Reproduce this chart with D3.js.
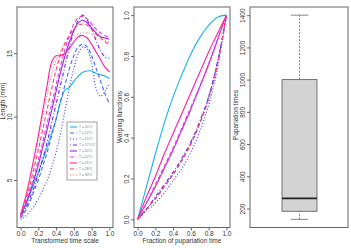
<!DOCTYPE html>
<html>
<head>
<meta charset="utf-8">
<script src="https://cdn.jsdelivr.net/npm/d3@7"></script>
<style>
  body { margin: 0; background: #fff; }
  svg { font-family: "Liberation Sans", Arial, sans-serif; }
</style>
</head>
<body>
<div id="chart"></div>
<script>
// DATA
const tGrid = [0,0.05,0.1,0.15,0.2,0.25,0.3,0.35,0.4,0.45,0.5,0.55,0.6,0.65,0.7,0.75,0.8,0.85,0.9,0.95,1]
const tempLabels = ["T = 10°C","T = 12°C","T = 15°C","T = 17.5°C","T = 20°C","T = 22°C","T = 25°C","T = 28°C","T = 30°C"]
const lenT1 = [2.2,2.9,3.8,4.7,5.6,6.6,7.6,8.7,9.8,11.2,12.1,12.3,12.8,13.2,13.5,13.6,13.6,13.4,13.3,13.2,13.0]
const lenT2 = [2.0,2.5,3.2,4.1,5.0,6.1,7.2,8.5,9.8,11.2,12.5,13.8,14.8,15.5,15.7,15.5,14.8,13.8,12.8,11.8,11.0]
const lenT3 = [1.9,2.1,2.5,2.9,3.5,4.2,5.0,6.0,7.2,8.7,10.5,12.3,13.8,15.0,15.5,15.3,14.2,12.2,11.6,12.0,12.6]
const lenT4 = [2.1,2.7,3.5,4.4,5.5,6.7,8.0,9.5,11.0,12.5,14.0,15.5,16.8,17.6,18.0,17.6,16.9,16.0,15.2,14.7,14.6]
const lenT5 = [2.2,3.0,3.9,5.0,6.2,7.6,9.0,10.5,12.0,13.5,14.8,15.9,16.8,17.4,17.6,17.4,17.0,16.6,16.3,16.2,16.1]
const lenT6 = [2.2,3.1,4.1,5.3,6.6,8.0,9.5,11.0,12.5,14.0,15.3,16.4,17.3,17.8,17.9,17.7,17.3,16.9,16.6,16.4,16.2]
const lenT7 = [2.3,3.5,5.0,6.7,8.5,10.5,12.5,14.3,14.8,14.8,15.0,15.4,15.9,16.3,16.4,16.2,15.7,15.1,14.5,13.9,13.5]
const lenT8 = [2.2,3.3,4.5,5.9,7.4,9.0,10.6,12.2,13.7,14.9,15.8,16.4,16.9,17.2,17.3,17.2,16.9,16.5,16.2,15.9,15.7]
const lenT9 = [2.3,3.5,4.9,6.5,8.2,10.0,11.7,13.3,14.5,15.2,15.7,16.0,16.3,16.5,16.6,16.6,16.5,16.3,16.2,16.0,15.9]

const wGrid = [0,0.1,0.2,0.3,0.4,0.5,0.6,0.7,0.8,0.9,1]
const warpT1 = [0,0.16,0.32,0.47,0.6,0.71,0.81,0.89,0.95,0.99,1]
const warpT2 = [0,0.05,0.1,0.16,0.22,0.29,0.37,0.47,0.6,0.77,1]
const warpT3 = [0,0.04,0.08,0.13,0.19,0.25,0.33,0.43,0.56,0.74,1]
const warpT4 = [0,0.05,0.11,0.17,0.23,0.3,0.38,0.48,0.6,0.77,1]
const warpT5 = [0,0.08,0.16,0.25,0.34,0.44,0.54,0.65,0.76,0.88,1]
const warpT6 = [0,0.08,0.17,0.26,0.35,0.45,0.55,0.65,0.76,0.88,1]
const warpT7 = [0,0.11,0.21,0.32,0.42,0.52,0.62,0.72,0.82,0.91,1]
const warpT8 = [0,0.05,0.1,0.16,0.22,0.29,0.37,0.47,0.59,0.76,1]
const warpT9 = [0,0.08,0.16,0.25,0.34,0.44,0.54,0.64,0.75,0.87,1]

// boxplot stats: lower whisker, Q1, median, Q3, upper whisker
const pupStats = [133, 183, 263, 1000, 1400]

const lengths = [lenT1,lenT2,lenT3,lenT4,lenT5,lenT6,lenT7,lenT8,lenT9]
const warps = [warpT1,warpT2,warpT3,warpT4,warpT5,warpT6,warpT7,warpT8,warpT9]
const colors = ["#16b4f2","#3d6bf5","#3a3aff","#6a2af0","#a020f0","#e03ce0","#ff1aa0","#ff3d6e","#ff7272"]
const dashes = ["none","4,2.5","1,2","1,2,4,2","none","4,2.5","none","4,2.5","1,2"]

const width = 351, height = 248
const plotTop = 7, plotBottom = 227.5
const axisCol = "#666"

const svg = d3.select("#chart").append("svg")
  .attr("width", width).attr("height", height)

function pad(ext) {
  const d = (ext[1]-ext[0])*0.04
  return [ext[0]-d, ext[1]+d]
}

function drawFrame(x0, x1, xScale, yScale, yTicks, yFmt, yTitle, yTitleX, yTitleY, xTitle) {
  const g = svg.append("g")
  g.append("rect")
    .attr("x", x0).attr("y", plotTop).attr("width", x1-x0).attr("height", plotBottom-plotTop)
    .attr("fill", "none").attr("stroke", axisCol).attr("stroke-width", 1)

  const yAx = g.append("g")
    .attr("transform", `translate(${x0},0)`)
    .call(d3.axisLeft(yScale).tickValues(yTicks).tickFormat(yFmt).tickSize(3).tickPadding(2))
  yAx.select(".domain").remove()
  yAx.selectAll(".tick line").attr("stroke", axisCol)
  yAx.selectAll(".tick text")
    .attr("transform", "rotate(-90)")
    .attr("x", 0).attr("y", -5.5)
    .attr("dy", 0)
    .attr("text-anchor", "middle")
    .attr("font-size", 6.5).attr("fill", "#333")

  g.append("text")
    .attr("transform", `translate(${yTitleX},${yTitleY}) rotate(-90)`)
    .attr("text-anchor", "middle")
    .attr("font-size", 6.5).attr("fill", "#333")
    .text(yTitle)

  if (xScale) {
    const xAx = g.append("g")
      .attr("transform", `translate(0,${plotBottom})`)
      .call(d3.axisBottom(xScale).tickValues([0,0.2,0.4,0.6,0.8,1]).tickFormat(d3.format(".1f")).tickSize(3).tickPadding(1))
    xAx.select(".domain").remove()
    xAx.selectAll(".tick line").attr("stroke", axisCol)
    xAx.selectAll(".tick text").attr("font-size", 6.5).attr("fill", "#333")
    g.append("text")
      .attr("x", (x0+x1)/2).attr("y", 243)
      .attr("text-anchor", "middle")
      .attr("font-size", 6.5).attr("fill", "#333")
      .text(xTitle)
  }
}

// PANEL 1: lengths
const x1Scale = d3.scaleLinear().domain(pad([0,1])).range([17, 113])
const y1Scale = d3.scaleLinear().domain(pad(d3.extent(lengths.flat()))).range([plotBottom, plotTop])
drawFrame(17, 113, x1Scale, y1Scale, [5,10,15], d3.format("d"), "Length (mm)", 4.5, 101, "Transformed time scale")

const line1 = d3.line()
  .x((d,i) => x1Scale(tGrid[i]))
  .y(d => y1Scale(d))
  .curve(d3.curveCatmullRom)

svg.append("g").selectAll("path")
  .data(lengths)
  .join("path")
    .attr("d", line1)
    .attr("fill", "none")
    .attr("stroke", (d,i) => colors[i])
    .attr("stroke-width", 1.1)
    .attr("stroke-dasharray", (d,i) => dashes[i])

// legend
const legend = svg.append("g").attr("transform", "translate(67,122)")
legend.append("rect")
  .attr("width", 30).attr("height", 58)
  .attr("fill", "#fff").attr("stroke", "#888").attr("stroke-width", 0.8)
const legRow = d3.scaleBand().domain(d3.range(9)).range([2, 56])
tempLabels.forEach((lab, i) => {
  const yy = legRow(i) + legRow.bandwidth()/2
  legend.append("line")
    .attr("x1", 3).attr("x2", 10).attr("y1", yy).attr("y2", yy)
    .attr("stroke", colors[i]).attr("stroke-width", 1.1)
    .attr("stroke-dasharray", dashes[i])
  legend.append("text")
    .attr("x", 12).attr("y", yy+1.2)
    .attr("font-size", 3.4).attr("fill", "#777")
    .text(lab)
})

// PANEL 2: warping functions
const x2Scale = d3.scaleLinear().domain(pad([0,1])).range([134, 230])
const y2Scale = d3.scaleLinear().domain(pad([0,1])).range([plotBottom, plotTop])
drawFrame(134, 230, x2Scale, y2Scale, [0,0.2,0.4,0.6,0.8,1], d3.format(".1f"), "Warping functions", 121.5, 117, "Fraction of pupariation time")

const line2 = d3.line()
  .x((d,i) => x2Scale(wGrid[i]))
  .y(d => y2Scale(d))
  .curve(d3.curveCatmullRom)

svg.append("g").selectAll("path")
  .data(warps)
  .join("path")
    .attr("d", line2)
    .attr("fill", "none")
    .attr("stroke", (d,i) => colors[i])
    .attr("stroke-width", 1.1)
    .attr("stroke-dasharray", (d,i) => dashes[i])

// PANEL 3: boxplot
const y3Scale = d3.scaleLinear().domain(pad([pupStats[0], pupStats[4]])).range([plotBottom, plotTop])
drawFrame(250, 348, null, y3Scale, [200,400,600,800,1000,1200,1400], d3.format("d"), "Pupariation times", 238, 115, "")

const cx = 299.5, bw = 35
const box = svg.append("g")
box.append("line")
  .attr("x1", cx).attr("x2", cx).attr("y1", y3Scale(pupStats[3])).attr("y2", y3Scale(pupStats[4]))
  .attr("stroke", "#666").attr("stroke-dasharray", "2,1.5").attr("stroke-width", 0.8)
box.append("line")
  .attr("x1", cx).attr("x2", cx).attr("y1", y3Scale(pupStats[0])).attr("y2", y3Scale(pupStats[1]))
  .attr("stroke", "#666").attr("stroke-dasharray", "2,1.5").attr("stroke-width", 0.8)
box.selectAll(".cap")
  .data([pupStats[0], pupStats[4]])
  .join("line")
    .attr("x1", cx-bw/4).attr("x2", cx+bw/4)
    .attr("y1", d => y3Scale(d)).attr("y2", d => y3Scale(d))
    .attr("stroke", "#666").attr("stroke-width", 0.8)
box.append("rect")
  .attr("x", cx-bw/2).attr("width", bw)
  .attr("y", y3Scale(pupStats[3])).attr("height", y3Scale(pupStats[1]) - y3Scale(pupStats[3]))
  .attr("fill", "#d3d3d3").attr("stroke", "#555").attr("stroke-width", 0.8)
box.append("line")
  .attr("x1", cx-bw/2).attr("x2", cx+bw/2)
  .attr("y1", y3Scale(pupStats[2])).attr("y2", y3Scale(pupStats[2]))
  .attr("stroke", "#222").attr("stroke-width", 1.6)
</script>
</body>
</html>
